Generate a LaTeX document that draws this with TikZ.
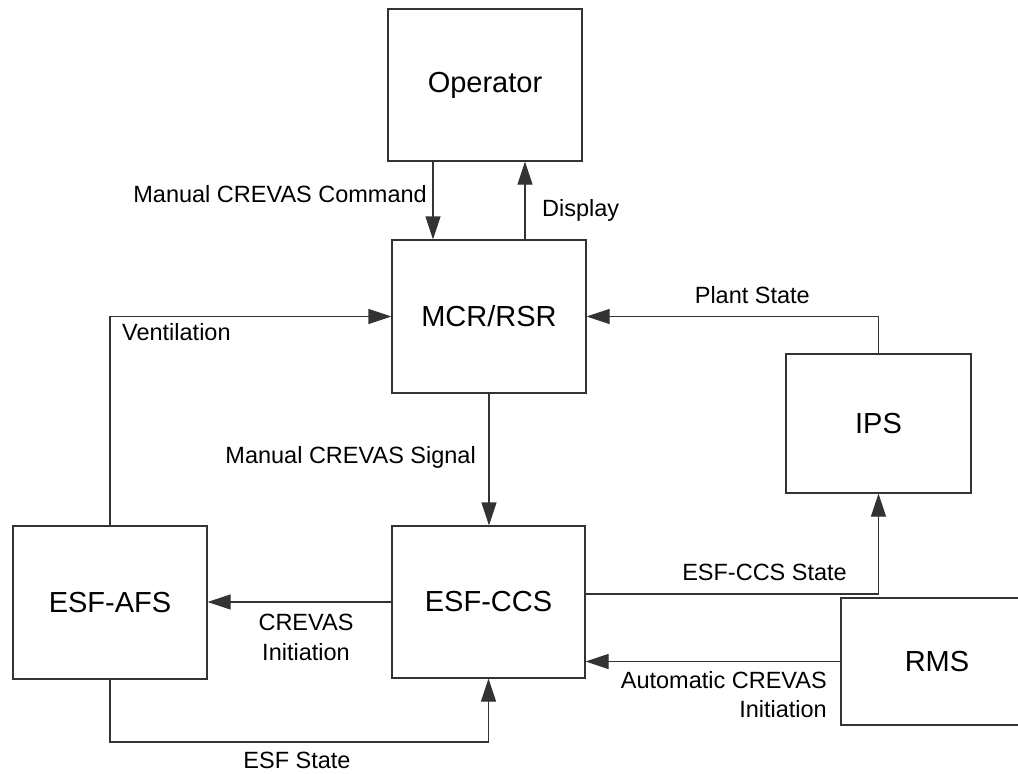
\documentclass[tikz,border=0pt]{standalone}
\usepackage{fontspec}
\setmainfont{Liberation Sans}
\usetikzlibrary{arrows.meta,calc}
\begin{document}
\begin{tikzpicture}[x=1pt,y=-1pt,
  blk/.style={draw=black!80, line width=1.1pt, inner sep=0pt, fill=white,
    font=\fontsize{29}{34}\selectfont},
  lbl/.style={inner sep=0pt, font=\fontsize{23.5}{28}\selectfont},
  arr/.style={draw=black!80, line width=1.1pt, -{Triangle[length=23pt,width=15pt]}},
  conn/.style={draw=black!80, line width=1.1pt}]
\useasboundingbox (0,0) rectangle (1018,774);
\clip (0,0) rectangle (1018,774);
% boxes
\node[blk, minimum width=194pt, minimum height=152pt] (op)  at (485,85)      {Operator};
\node[blk, minimum width=194pt, minimum height=153pt] (mcr) at (489,316.5)   {MCR/RSR};
\node[blk, minimum width=185pt, minimum height=139pt] (ips) at (878.5,423.5) {IPS};
\node[blk, minimum width=194pt, minimum height=153pt] (afs) at (110,602.5)   {ESF-AFS};
\node[blk, minimum width=193pt, minimum height=152pt] (ccs) at (488.5,602)   {ESF-CCS};
\node[blk, minimum width=192pt, minimum height=127pt] (rms) at (937,661.5)   {RMS};
% helper coordinates
\coordinate (cmdx) at (433,0);
\coordinate (dspx) at (525,0);
\coordinate (esfy) at (0,742);
% connectors
\draw[arr] (op.south -| cmdx) -- (mcr.north -| cmdx);
\draw[arr] (mcr.north -| dspx) -- (op.south -| dspx);
\draw[arr] (afs.north) |- (mcr.west);
\draw[arr] (ips.north) |- (mcr.east);
\draw[arr] (mcr.south) -- (ccs.north -| mcr.south);
\draw[arr] ([yshift=8pt]ccs.east) -| (ips.south);
\draw[arr] (ccs.west) -- (ccs.west -| afs.east);
\draw[arr] (rms.west) -- (rms.west -| ccs.east);
\draw[arr] (afs.south) -- (afs.south |- esfy) -| (ccs.south);
% labels
\node[lbl, anchor=base east] (lcmd) at (427,202) {Manual CREVAS Command};
\node[lbl, anchor=base west] (ldsp) at (542,216) {Display};
\node[lbl, anchor=base west] (lven) at (122,340) {Ventilation};
\node[lbl, anchor=base east] (lpls) at (810,303) {Plant State};
\node[lbl, anchor=base east] (lsig) at (476,463) {Manual CREVAS Signal};
\node[lbl, anchor=base east] (lccs) at (847,580) {ESF-CCS State};
\node[lbl, anchor=base] (lini1) at (306,630) {CREVAS};
\node[lbl, anchor=base] (lini2) at (306,660) {Initiation};
\node[lbl, anchor=base east] (laut1) at (827,688) {Automatic CREVAS};
\node[lbl, anchor=base east] (laut2) at (827,717) {Initiation};
\node[lbl, anchor=base] (lesf) at (297,768) {ESF State};
\end{tikzpicture}
\end{document}
